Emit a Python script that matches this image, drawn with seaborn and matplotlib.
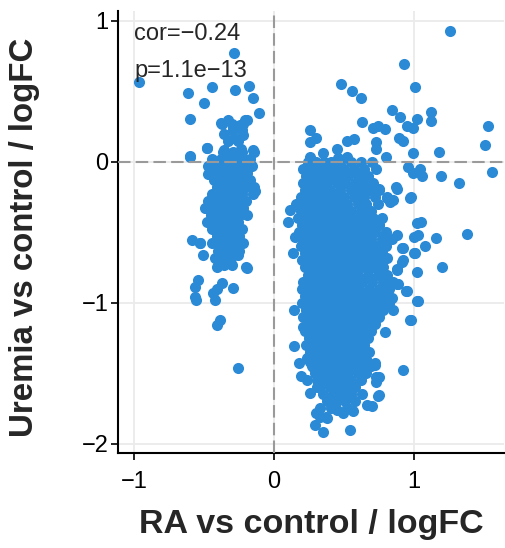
import matplotlib
matplotlib.use("Agg")
import matplotlib.pyplot as plt
import seaborn as sns
import pandas as pd

# ---- data ----
# left cluster: rows of (y, x values)
left_row_y = [0.02, -0.03, -0.08, -0.13, -0.18, -0.23, -0.28, -0.33, -0.38,
              -0.43, -0.48, -0.53, -0.58, -0.63, -0.68, -0.73]
left_row_x = [
    [-0.44, -0.38, -0.33, -0.27, -0.22, -0.17],
    [-0.47, -0.41, -0.36, -0.31, -0.26, -0.21, -0.16],
    [-0.45, -0.39, -0.34, -0.29, -0.24, -0.19],
    [-0.43, -0.37, -0.32, -0.27, -0.22, -0.17],
    [-0.41, -0.36, -0.30, -0.25, -0.20, -0.14],
    [-0.44, -0.38, -0.33, -0.28, -0.23, -0.15],
    [-0.47, -0.40, -0.35, -0.30, -0.25, -0.20],
    [-0.49, -0.43, -0.37, -0.32, -0.27, -0.22],
    [-0.45, -0.40, -0.34, -0.29, -0.24, -0.19],
    [-0.48, -0.42, -0.36, -0.31, -0.26],
    [-0.44, -0.38, -0.33, -0.28, -0.23],
    [-0.41, -0.35, -0.30, -0.25],
    [-0.53, -0.44, -0.38, -0.32, -0.27, -0.22],
    [-0.40, -0.35, -0.29, -0.25],
    [-0.42, -0.37, -0.31],
    [-0.40, -0.36, -0.30],
]

# left cluster scattered points
left_pts_x = [-0.966, -0.286, -0.614, -0.441, -0.281, -0.18, -0.148, -0.107, -0.195,
              -0.50, -0.602, -0.376, -0.33, -0.293, -0.245, -0.21, -0.355, -0.283,
              -0.224, -0.476, -0.602, -0.355, -0.295, -0.236, -0.148, -0.60, -0.476,
              -0.374, -0.30, -0.219, -0.29, -0.23, -0.326, -0.254, -0.362, -0.29,
              -0.23, -0.143, -0.135, -0.588, -0.528, -0.505, -0.254, -0.41, -0.362,
              -0.20, -0.54, -0.564, -0.564, -0.433, -0.41, -0.374, -0.295, -0.386,
              -0.405, -0.254, -0.56, -0.42, -0.195, -0.485, -0.47]
left_pts_y = [0.567, 0.773, 0.485, 0.527, 0.508, 0.54, 0.45, 0.348, 0.295,
              0.414, 0.301, 0.272, 0.296, 0.237, 0.26, 0.296, 0.20, 0.166,
              0.19, 0.10, 0.04, 0.08, 0.055, 0.09, 0.083, 0.035, 0.095,
              0.27, 0.27, 0.27, 0.225, 0.225, 0.15, 0.15, 0.07, 0.07,
              0.07, 0.07, -0.21, -0.555, -0.58, -0.66, -0.66, -0.745, -0.72,
              -0.745, -0.84, -0.886, -0.958, -0.934, -0.90, -0.862, -0.898, -1.123,
              -1.158, -1.466, -0.98, -0.98, -0.756, -0.33, -0.09]

# right cluster core: rows of (y, x values)
right_row_y = [0.00, -0.05, -0.10, -0.15, -0.20, -0.25, -0.30, -0.35, -0.40, -0.45,
               -0.50, -0.55, -0.60, -0.65, -0.70, -0.75, -0.80, -0.85, -0.90, -0.95,
               -1.00, -1.05, -1.10, -1.15, -1.20, -1.25, -1.30, -1.35, -1.40, -1.45,
               -1.50, -1.55, -1.60, -1.65, -1.70, -1.75]
right_row_x = [
    [0.24, 0.30, 0.36, 0.41, 0.47, 0.55, 0.62, 0.70],
    [0.21, 0.27, 0.33, 0.39, 0.44, 0.50, 0.57, 0.64, 0.73],
    [0.23, 0.29, 0.35, 0.42, 0.48, 0.53, 0.60, 0.67],
    [0.21, 0.26, 0.32, 0.38, 0.45, 0.51, 0.58, 0.64, 0.71],
    [0.22, 0.29, 0.34, 0.40, 0.47, 0.55, 0.61, 0.68, 0.75],
    [0.19, 0.25, 0.31, 0.37, 0.43, 0.50, 0.57, 0.64, 0.72],
    [0.16, 0.22, 0.28, 0.35, 0.41, 0.46, 0.52, 0.60, 0.66, 0.74],
    [0.19, 0.25, 0.31, 0.38, 0.44, 0.49, 0.55, 0.62, 0.69],
    [0.17, 0.23, 0.29, 0.34, 0.40, 0.47, 0.53, 0.58, 0.65, 0.71, 0.77],
    [0.20, 0.26, 0.32, 0.37, 0.43, 0.50, 0.56, 0.62, 0.68, 0.75],
    [0.18, 0.24, 0.30, 0.35, 0.41, 0.47, 0.53, 0.59, 0.66, 0.72, 0.80],
    [0.21, 0.27, 0.33, 0.39, 0.44, 0.50, 0.57, 0.63, 0.69, 0.77, 0.84],
    [0.19, 0.24, 0.30, 0.36, 0.42, 0.48, 0.54, 0.60, 0.66, 0.73, 0.80],
    [0.22, 0.28, 0.33, 0.39, 0.45, 0.51, 0.57, 0.63, 0.70, 0.77],
    [0.20, 0.25, 0.31, 0.37, 0.43, 0.49, 0.55, 0.61, 0.67, 0.74],
    [0.22, 0.28, 0.34, 0.40, 0.46, 0.52, 0.58, 0.64, 0.71, 0.78],
    [0.24, 0.30, 0.36, 0.42, 0.48, 0.54, 0.60, 0.67, 0.74, 0.81],
    [0.21, 0.27, 0.33, 0.39, 0.45, 0.51, 0.57, 0.63, 0.70, 0.78, 0.85],
    [0.20, 0.25, 0.31, 0.37, 0.43, 0.49, 0.55, 0.61, 0.68, 0.75, 0.82],
    [0.22, 0.28, 0.34, 0.40, 0.46, 0.52, 0.58, 0.64, 0.71, 0.79],
    [0.20, 0.26, 0.31, 0.37, 0.43, 0.49, 0.55, 0.62, 0.68, 0.75, 0.82],
    [0.23, 0.29, 0.35, 0.41, 0.47, 0.52, 0.58, 0.65, 0.72, 0.78],
    [0.21, 0.27, 0.33, 0.39, 0.45, 0.50, 0.56, 0.62, 0.69, 0.75],
    [0.24, 0.30, 0.36, 0.42, 0.48, 0.54, 0.60, 0.66, 0.72],
    [0.22, 0.27, 0.33, 0.39, 0.45, 0.51, 0.57, 0.63, 0.69],
    [0.25, 0.31, 0.37, 0.43, 0.49, 0.55, 0.61, 0.67],
    [0.23, 0.28, 0.34, 0.40, 0.46, 0.52, 0.58, 0.64],
    [0.26, 0.32, 0.38, 0.44, 0.50, 0.56, 0.62, 0.68],
    [0.24, 0.30, 0.36, 0.41, 0.47, 0.53, 0.59, 0.66],
    [0.27, 0.33, 0.39, 0.45, 0.51, 0.57, 0.63, 0.69],
    [0.29, 0.35, 0.41, 0.47, 0.53, 0.60, 0.66],
    [0.31, 0.37, 0.43, 0.49, 0.55, 0.62],
    [0.33, 0.40, 0.46, 0.52, 0.58],
    [0.35, 0.42, 0.48, 0.55, 0.63],
    [0.38, 0.45, 0.51, 0.58],
    [0.33, 0.41, 0.52],
]

# right side scattered points
right_pts_x = [1.26, 0.93, 1.01, 0.84, 0.90, 1.02, 1.12, 1.12, 0.74, 0.79, 0.95, 0.99,
               0.89, 0.92, 0.73, 0.73, 0.80, 0.99, 1.18, 1.53, 1.51,
               0.48, 0.56, 0.62, 0.63, 0.26, 0.30, 0.26, 0.26, 0.35, 0.45, 0.52, 0.57, 0.71,
               0.46, 0.52,
               0.96, 1.04, 1.06, 0.99, 1.19, 1.32, 1.56, 0.87, 0.98, 0.81, 0.85, 0.75,
               1.05, 1.03, 1.16, 1.38, 0.88, 1.08, 1.01, 0.92, 0.92, 1.20, 0.876, 1.02,
               0.94, 0.88, 1.03, 0.98, 0.92, 0.72, 0.73, 0.73, 0.74, 0.70, 0.79,
               0.14, 0.14, 0.18, 0.19, 0.26, 0.26, 0.30, 0.29, 0.35, 0.37, 0.54, 0.21,
               0.114, 0.102, 0.15, 0.138, 1.02, 1.0, 0.912, 1.0, 0.912, 0.876, 0.888,
               0.948, 1.02, 0.852, 0.971, 0.876, 0.971, 0.805, 0.829, 0.662, 0.329,
               0.376, 0.448, 0.495, 0.567, 0.305, 0.233, 0.233, 0.281, 0.748, 0.724,
               0.748, 0.748, 0.795, 0.736, 0.807, 0.748, 0.795, 0.771, 0.843]
right_pts_y = [0.93, 0.695, 0.53, 0.37, 0.32, 0.30, 0.35, 0.29, 0.25, 0.23, 0.25, 0.24,
               0.165, 0.15, 0.14, 0.09, 0.03, 0.06, 0.07, 0.255, 0.12,
               0.55, 0.50, 0.45, 0.28, 0.225, 0.166, 0.141, 0.035, 0.06, 0.09, 0.15, 0.16, 0.24,
               0.024, 0.035,
               -0.04, -0.05, -0.10, -0.08, -0.10, -0.15, -0.07, -0.18, -0.25, -0.26, -0.27, -0.19,
               -0.43, -0.52, -0.54, -0.51, -0.52, -0.60, -0.65, -0.61, -0.70, -0.75, -0.76, -0.785,
               -0.915, -0.87, -0.99, -1.125, -1.475, -1.43, -1.53, -1.56, -1.66, -1.73, -1.21,
               -1.05, -1.31, -1.43, -1.52, -1.42, -1.64, -1.78, -1.87, -1.92, -1.81, -1.90, -1.17,
               -0.343, -0.425, -0.532, -0.65, -0.437, -0.532, -0.615, -0.65, -0.71, -0.77, -0.87,
               -0.92, -0.99, -1.05, -1.122, -0.19, -0.26, -0.248, -0.284, -1.726, -1.808,
               -1.82, -1.76, -1.785, -1.77, -1.595, -1.548, -1.395, -1.454, -1.654, -1.442,
               -1.525, -0.449, -0.52, -0.638, -0.685, -0.78, -0.827, -0.945, -0.969]

cor_text = "cor=\u22120.24"
p_text = "p=1.1e\u221213"
x_label = "RA vs control / logFC"
y_label = "Uremia vs control / logFC"
x_ticks = [-1, 0, 1]
y_ticks = [-2, -1, 0, 1]

# ---- build table ----
xs, ys = [], []
for yv, row in zip(left_row_y, left_row_x):
    xs += row
    ys += [yv] * len(row)
xs += left_pts_x
ys += left_pts_y
for yv, row in zip(right_row_y, right_row_x):
    xs += row
    ys += [yv] * len(row)
xs += right_pts_x
ys += right_pts_y
df = pd.DataFrame({"RA": xs, "Uremia": ys})

# ---- style ----
sns.set_style("whitegrid")
plt.rcParams["font.family"] = ["Liberation Sans", "DejaVu Sans"]

fig = plt.figure(figsize=(5.06, 5.48), dpi=100)
ax = fig.add_axes([118 / 506, 95 / 548, 386 / 506, 442 / 548])

sns.scatterplot(data=df, x="RA", y="Uremia", color="#2B8AD6", s=64,
                linewidth=0, alpha=1, ax=ax, zorder=3)

ax.axvline(0, color="#9A9A9A", lw=1.5, ls=(0, (6, 2.5)), zorder=4)
ax.axhline(0, color="#9A9A9A", lw=1.5, ls=(0, (6, 2.5)), zorder=4)

ax.set_xlim(-1.114, 1.643)
ax.set_ylim(-2.066, 1.069)
ax.set_xticks(x_ticks)
ax.set_yticks(y_ticks)
ax.set_xticklabels([str(t).replace("-", "\u2212") for t in x_ticks])
ax.set_yticklabels([str(t).replace("-", "\u2212") for t in y_ticks])

ax.grid(True, color="#EBEBEB", lw=1.3)
ax.set_axisbelow(True)
for s in ["top", "right"]:
    ax.spines[s].set_visible(False)
for s in ["left", "bottom"]:
    ax.spines[s].set_visible(True)
    ax.spines[s].set_color("black")
    ax.spines[s].set_linewidth(1.5)

ax.tick_params(axis="both", which="major", length=5, width=1.2, color="black",
               labelsize=17, labelcolor="black", direction="out")
ax.tick_params(axis="x", pad=8)
ax.tick_params(axis="y", pad=2)
ax.xaxis.set_ticks_position("bottom")
ax.yaxis.set_ticks_position("left")

ax.set_xlabel(x_label, fontsize=24.5, fontweight="bold")
ax.set_ylabel(y_label, fontsize=23.8, fontweight="bold")
ax.xaxis.set_label_coords(0.5, -0.1256)
ax.yaxis.set_label_coords(-0.202, 0.488)

ax.text(-1.0, 0.863, cor_text, fontsize=17, va="baseline", ha="left")
ax.text(-1.0, 0.603, p_text, fontsize=17, va="baseline", ha="left")

fig.savefig("out.png", dpi=100)
